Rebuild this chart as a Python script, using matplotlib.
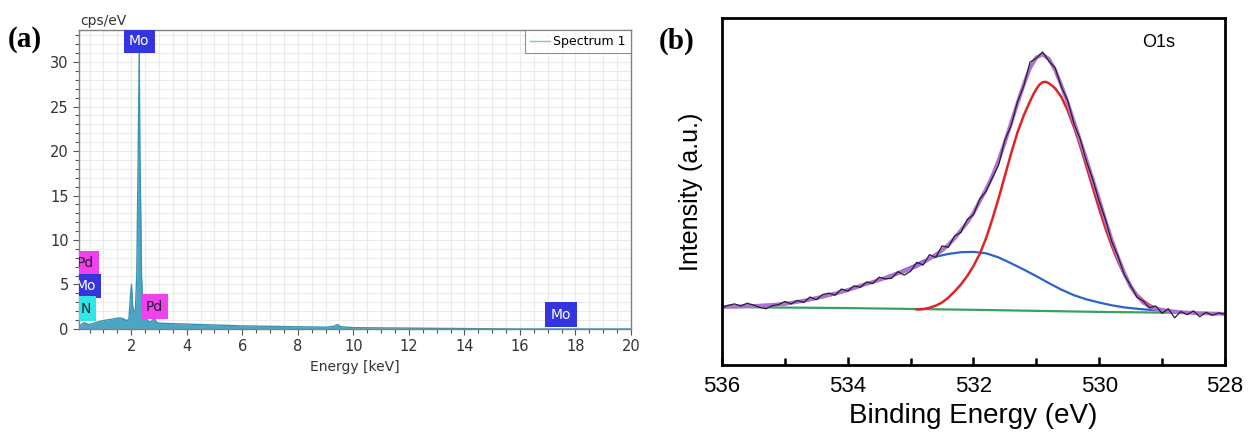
import matplotlib.pyplot as plt
from matplotlib.ticker import MultipleLocator, NullLocator

# (a) EDS spectrum
eds_energy = [0.12, 0.2, 0.3, 0.4, 0.5, 0.6, 0.8, 1.0, 1.2, 1.4, 1.6, 1.75, 1.85,
              1.92, 1.97, 2.01, 2.05, 2.1, 2.15, 2.2, 2.25, 2.29, 2.31, 2.34, 2.37,
              2.42, 2.5, 2.6, 2.7, 2.84, 2.9, 3.0, 3.5, 4.0, 5.0, 6.0, 7.0, 8.0,
              9.0, 9.3, 9.42, 9.55, 10.0, 11.0, 12.0, 13.0, 14.0, 15.0, 16.0, 20.0]
eds_counts = [0.3, 0.5, 0.7, 0.6, 0.5, 0.6, 0.8, 0.95, 1.05, 1.15, 1.25, 1.1, 0.9,
              1.2, 3.6, 5.0, 2.6, 1.9, 2.1, 6.0, 19.0, 31.5, 20.0, 14.0, 6.0,
              2.4, 1.4, 0.9, 0.8, 1.2, 0.8, 0.65, 0.6, 0.55, 0.45, 0.35, 0.3, 0.25,
              0.2, 0.3, 0.5, 0.25, 0.15, 0.12, 0.1, 0.07, 0.05, 0.02, 0.0, 0.0]

# element markers: (label, energy, height, face colour, text colour)
eds_labels = [("Mo", 2.29, 32.4, "#3535e0", "white"),
              ("Pd", 0.35, 7.4, "#f040f0", "#222222"),
              ("Mo", 0.35, 4.85, "#3535e0", "white"),
              ("N", 0.35, 2.3, "#30e6e6", "#222222"),
              ("Pd", 2.84, 2.5, "#f040f0", "#222222"),
              ("Mo", 17.48, 1.6, "#3535e0", "white")]

# (b) O1s XPS fit
be_grid = [536.0, 535.9, 535.8, 535.7, 535.6, 535.5, 535.4, 535.3, 535.2, 535.1,
           535.0, 534.9, 534.8, 534.7, 534.6, 534.5, 534.4, 534.3, 534.2, 534.1,
           534.0, 533.9, 533.8, 533.7, 533.6, 533.5, 533.4, 533.3, 533.2, 533.1,
           533.0, 532.9, 532.8, 532.7, 532.6, 532.5, 532.4, 532.3, 532.2, 532.1,
           532.0, 531.9, 531.8, 531.7, 531.6, 531.5, 531.4, 531.3, 531.2, 531.1,
           531.0, 530.9, 530.8, 530.7, 530.6, 530.5, 530.4, 530.3, 530.2, 530.1,
           530.0, 529.9, 529.8, 529.7, 529.6, 529.5, 529.4, 529.3, 529.2, 529.1,
           529.0, 528.9, 528.8, 528.7, 528.6, 528.5, 528.4, 528.3, 528.2, 528.1,
           528.0]
raw_counts = [16.5, 17.2, 17.6, 17.0, 17.8, 17.3, 16.6, 16.2, 17.1, 17.4,
              18.3, 17.6, 18.6, 18.0, 19.6, 18.8, 20.3, 20.7, 20.1, 21.9,
              21.3, 22.8, 22.4, 23.9, 23.5, 25.3, 24.8, 25.0, 26.9, 25.9,
              27.0, 29.6, 28.8, 31.8, 31.0, 34.3, 33.9, 37.2, 38.2, 41.9,
              43.3, 47.8, 50.0, 53.9, 57.6, 64.8, 69.0, 75.8, 80.4, 87.3,
              88.4, 90.2, 87.6, 85.6, 80.1, 76.2, 69.5, 65.0, 58.6, 53.4,
              47.2, 41.9, 35.6, 31.3, 26.0, 22.9, 19.6, 18.4, 16.5, 17.0,
              14.9, 16.2, 13.6, 15.4, 14.5, 15.6, 13.9, 15.2, 14.3, 15.0,
              14.6]
envelope = [16.7, 16.8, 16.8, 16.9, 17.0, 17.0, 17.1, 17.2, 17.3, 17.5,
            17.6, 17.9, 18.2, 18.5, 18.9, 19.3, 19.7, 20.2, 20.6, 21.1,
            21.6, 22.2, 22.8, 23.4, 23.9, 24.5, 25.1, 25.7, 26.4, 27.0,
            27.7, 28.5, 29.5, 30.6, 31.8, 33.0, 34.6, 36.5, 38.8, 41.0,
            43.8, 47.2, 50.6, 54.4, 59.0, 64.2, 69.8, 75.4, 80.8, 85.6,
            88.6, 89.5, 88.2, 85.0, 80.5, 75.5, 70.0, 64.5, 59.0, 53.2,
            47.6, 41.6, 36.0, 31.0, 26.5, 22.6, 20.0, 18.0, 16.8, 16.2,
            15.9, 15.6, 15.4, 15.2, 15.1, 15.0, 14.9, 14.9, 14.8, 14.8,
            14.7]

red_be = [532.9, 532.8, 532.7, 532.6, 532.5, 532.4, 532.3, 532.2, 532.1, 532.0,
          531.9, 531.8, 531.7, 531.6, 531.5, 531.4, 531.3, 531.2, 531.1, 531.05,
          531.0, 530.95, 530.9, 530.85, 530.8, 530.75, 530.7, 530.6, 530.5,
          530.4, 530.3, 530.2, 530.1, 530.0, 529.9, 529.8, 529.7, 529.6, 529.5,
          529.4, 529.3, 529.2, 529.1, 529.0, 528.9]
red_peak = [16.0, 16.1, 16.5, 17.1, 18.0, 19.4, 21.2, 23.2, 25.6, 28.5,
            32.0, 36.5, 42.0, 48.0, 54.5, 61.0, 67.0, 71.9, 76.0, 77.9,
            79.5, 80.8, 81.5, 81.6, 81.2, 80.5, 79.7, 77.2, 73.3,
            68.5, 63.0, 57.0, 51.0, 45.0, 39.4, 34.3, 29.8, 26.0, 22.8,
            20.3, 18.6, 17.3, 16.4, 15.9, 15.6]

blue_be = [536.0, 535.8, 535.6, 535.4, 535.2, 535.0, 534.8, 534.6, 534.4, 534.2,
           534.0, 533.8, 533.6, 533.4, 533.2, 533.0, 532.8, 532.6, 532.4, 532.2,
           532.0, 531.8, 531.6, 531.4, 531.2, 531.0, 530.8, 530.6, 530.4, 530.2,
           530.0, 529.8, 529.6, 529.4, 529.2, 529.0, 528.8]
blue_peak = [16.7, 16.8, 17.0, 17.2, 17.4, 17.6, 18.1, 18.7, 19.5, 20.4,
             21.4, 22.6, 23.9, 25.3, 26.7, 28.2, 30.0, 31.2, 32.0, 32.5,
             32.6, 32.2, 31.0, 29.3, 27.5, 25.6, 23.6, 21.7, 20.1, 18.9,
             18.0, 17.2, 16.6, 16.2, 15.9, 15.7, 15.5]

base_be = [536.0, 534.0, 532.0, 530.0, 528.0]
base_line = [16.7, 16.4, 15.9, 15.3, 14.9]

fig = plt.figure(figsize=(12.48, 4.38), dpi=100)

# ---------------- panel (a) ----------------
ax1 = fig.add_axes([0.0633, 0.2489, 0.4423, 0.6826])
ax1.set_xlim(0.12, 20)
ax1.set_ylim(0, 33.6)
ax1.xaxis.set_major_locator(MultipleLocator(2))
ax1.xaxis.set_minor_locator(MultipleLocator(0.5))
ax1.yaxis.set_major_locator(MultipleLocator(5))
ax1.yaxis.set_minor_locator(MultipleLocator(1))
ax1.grid(True, which="both", color="#ebebeb", lw=0.8)
ax1.set_axisbelow(True)
ax1.fill_between(eds_energy, eds_counts, 0, color="#4aa6c4", lw=0)
ax1.plot(eds_energy, eds_counts, color="#3b94b4", lw=1.0, label="Spectrum 1")
ax1.set_xticks([2, 4, 6, 8, 10, 12, 14, 16, 18, 20])
ax1.tick_params(which="both", direction="out", colors="#555555", labelcolor="#333333",
                labelsize=10.5, length=4, width=0.8)
ax1.tick_params(which="minor", length=3)
for s in ax1.spines.values():
    s.set_color("#808080")
    s.set_linewidth(1.0)
ax1.set_xlabel("Energy [keV]", fontsize=10, color="#333333", labelpad=4)

for name, xe, ye, fc, tc in eds_labels:
    ax1.text(xe, ye, name, ha="center", va="center", fontsize=10, color=tc,
             clip_on=True,
             bbox=dict(boxstyle="square,pad=0.38", fc=fc, ec="none"))

leg = ax1.legend(loc="upper right", fontsize=9, frameon=True, fancybox=False,
                 borderaxespad=0, handlelength=1.6, handletextpad=0.3,
                 borderpad=0.4)
leg.get_frame().set_edgecolor("#777777")
leg.get_frame().set_linewidth(0.8)
leg.get_lines()[0].set_color("#7cc4d4")

fig.text(0.064, 0.935, "cps/eV", fontsize=10, color="#333333", ha="left", va="bottom")
fig.text(0.006, 0.88, "(a)", fontsize=21, fontweight="bold",
         family="Liberation Serif", ha="left", va="bottom")

# ---------------- panel (b) ----------------
ax2 = fig.add_axes([0.5785, 0.1667, 0.403, 0.7922])
ax2.plot(base_be, base_line, color="#3aa060", lw=1.6)
ax2.plot(blue_be, blue_peak, color="#2a64c8", lw=1.6)
ax2.plot(red_be, red_peak, color="#e02424", lw=1.8)
ax2.plot(be_grid, envelope, color="#b070d8", lw=2.8)
ax2.plot(be_grid, raw_counts, color="#222222", lw=0.9)
ax2.set_xlim(536, 528)
ax2.set_ylim(0, 100)
ax2.xaxis.set_major_locator(MultipleLocator(2))
ax2.xaxis.set_minor_locator(MultipleLocator(1))
ax2.yaxis.set_major_locator(NullLocator())
ax2.tick_params(axis="x", which="both", direction="in", width=1.8, labelsize=16,
                pad=8, top=False)
ax2.tick_params(axis="x", which="major", length=6)
ax2.tick_params(axis="x", which="minor", length=5)
for lab in ax2.get_xticklabels():
    lab.set_family("Liberation Sans")
for s in ax2.spines.values():
    s.set_linewidth(2.0)
ax2.set_xlabel("Binding Energy (eV)", fontsize=20, family="Liberation Sans", labelpad=4)
ax2.set_ylabel("Intensity (a.u.)", fontsize=18, family="Liberation Sans", labelpad=14)
ax2.text(529.05, 93, "O1s", fontsize=13, family="Liberation Sans", ha="center", va="center")
fig.text(0.528, 0.875, "(b)", fontsize=21, fontweight="bold",
         family="Liberation Serif", ha="left", va="bottom")

fig.savefig("out.png", dpi=100)
